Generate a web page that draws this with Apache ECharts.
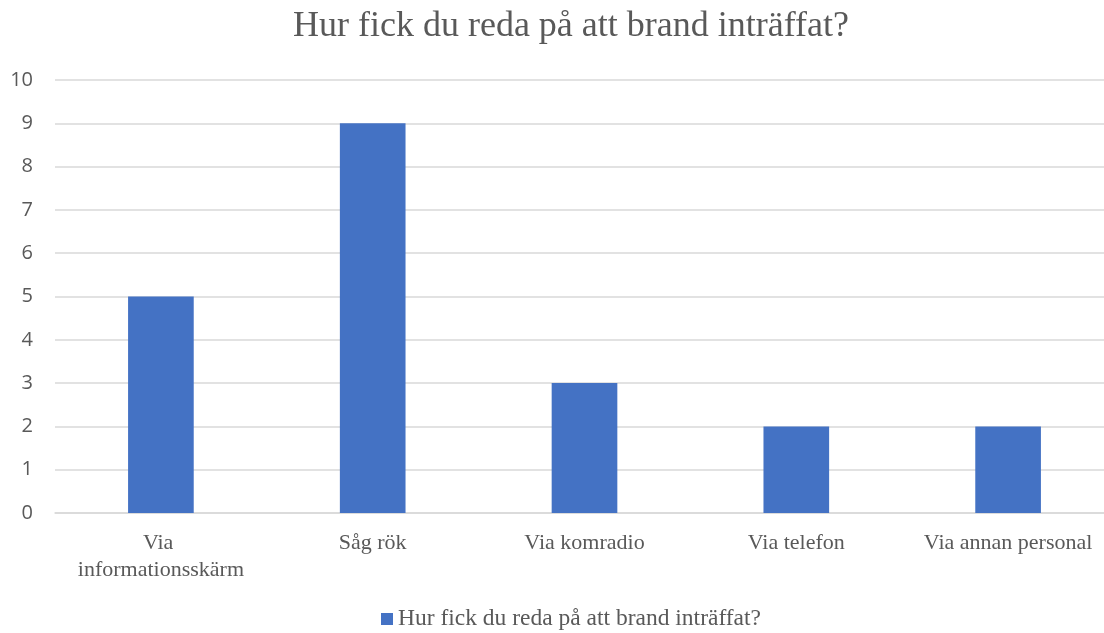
<!DOCTYPE html>
<html>
<head>
<meta charset="utf-8">
<script src="https://cdn.jsdelivr.net/npm/echarts@6/dist/echarts.min.js"></script>
<style>
  html, body { margin: 0; padding: 0; background: #fff; overflow: hidden; width: 1104px; height: 633px; }
  #chart { width: 1114px; height: 633px; }
</style>
</head>
<body>
<div id="chart"></div>
<script>
// Survey answers: how people learned a fire had broken out
const titleText = 'Hur fick du reda på att brand inträffat?';
const categories = ['Via informationsskärm', 'Såg rök', 'Via komradio', 'Via telefon', 'Via annan personal'];
const counts = [5, 9, 3, 2, 2];
const yTicks = { min: 0, max: 10, interval: 1 };

const serif = '"Liberation Serif", "DejaVu Serif", serif';
const sans = '"Open Sans", "Noto Sans", sans-serif';

const chart = echarts.init(document.getElementById('chart'), null, { renderer: 'canvas' });
chart.setOption({
  animation: false,
  backgroundColor: '#ffffff',
  title: {
    text: titleText,
    left: 566,
    top: 4,
    textAlign: 'center',
    textStyle: { fontFamily: serif, fontWeight: 'normal', fontSize: 36, color: '#595959' }
  },
  legend: {
    data: [titleText],
    left: 376,
    bottom: -3,
    icon: 'rect',
    itemWidth: 12,
    itemHeight: 12,
    itemGap: 7,
    textStyle: { fontFamily: serif, fontSize: 23.5, color: '#595959' }
  },
  grid: { left: 55, right: 0, top: 80, bottom: 120, containLabel: false },
  xAxis: {
    type: 'category',
    data: categories,
    axisLine: { lineStyle: { color: '#d9d9d9', width: 1.5 } },
    axisTick: { show: false },
    axisLabel: {
      interval: 0,
      margin: 17,
      width: 190,
      overflow: 'break',
      lineHeight: 27,
      fontFamily: serif,
      fontSize: 22,
      color: '#595959'
    }
  },
  yAxis: {
    type: 'value',
    min: yTicks.min,
    max: yTicks.max,
    interval: yTicks.interval,
    axisLine: { show: false },
    axisTick: { show: false },
    splitLine: { lineStyle: { color: '#d9d9d9', width: 1.5 } },
    axisLabel: { margin: 22, fontFamily: sans, fontSize: 20, color: '#595959' }
  },
  series: [{
    name: titleText,
    type: 'bar',
    data: counts,
    barWidth: '31%',
    itemStyle: { color: '#4472c4' }
  }]
});
</script>
</body>
</html>
